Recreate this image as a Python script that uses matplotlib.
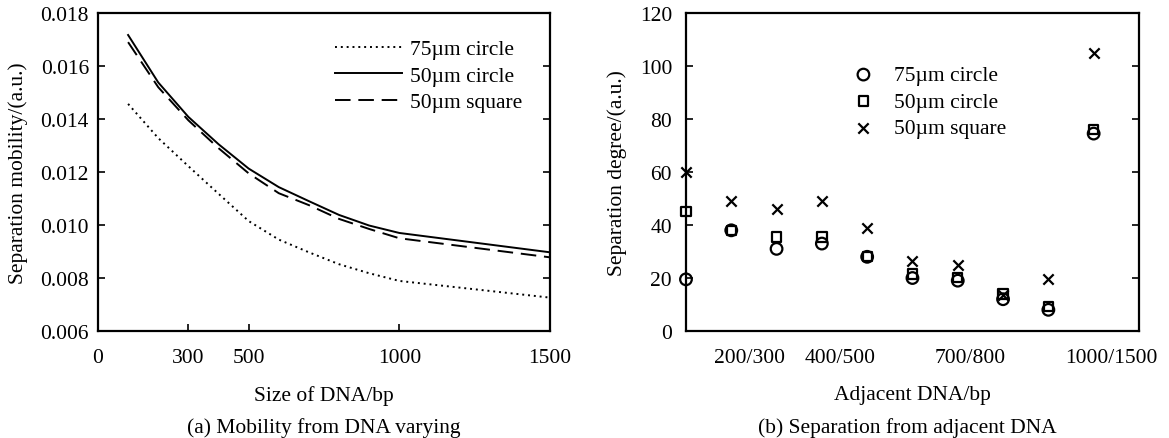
import matplotlib
matplotlib.use("Agg")
import matplotlib.pyplot as plt

plt.rcParams['font.family'] = ['Liberation Serif', 'DejaVu Serif']
plt.rcParams['font.size'] = 15.5

# (a) mobility vs DNA size
sizes = [100, 200, 300, 400, 500, 600, 700, 800, 900, 1000, 1500]
mob_75_circle = [0.01457, 0.01328, 0.01222, 0.01118, 0.01015, 0.00945, 0.00897, 0.00852, 0.00818, 0.00789, 0.00726]
mob_50_circle = [0.01717, 0.01538, 0.01408, 0.01305, 0.01213, 0.01143, 0.01090, 0.01038, 0.00998, 0.00970, 0.00897]
mob_50_square = [0.01690, 0.01520, 0.01395, 0.01290, 0.01195, 0.01120, 0.01075, 0.01023, 0.00985, 0.00950, 0.00878]

# (b) separation degree for adjacent DNA pairs
pair_idx = [0, 1, 2, 3, 4, 5, 6, 7, 8, 9]
sep_75_circle = [19.5, 38, 31, 33, 28, 20, 19, 12, 8, 74.5]
sep_50_circle = [45, 38, 35.5, 35.5, 28, 21.5, 20.3, 14, 9.2, 76]
sep_50_square = [60, 49, 46, 49, 39, 26.5, 25, 13.5, 19.5, 105]
pair_tick_pos = [1.4, 3.4, 6.27, 9.4]
pair_tick_labels = ['200/300', '400/500', '700/800', '1000/1500']

fig = plt.figure(figsize=(11.69, 4.39), dpi=100)
ax1 = fig.add_axes([0.0838, 0.2437, 0.3867, 0.7244])
ax2 = fig.add_axes([0.5868, 0.2437, 0.3875, 0.7244])

ax1.plot(sizes, mob_75_circle, color='black', lw=1.4, linestyle=(0, (1, 2)), label='75µm circle')
ax1.plot(sizes, mob_50_circle, color='black', lw=1.4, label='50µm circle')
ax1.plot(sizes, mob_50_square, color='black', lw=1.4, linestyle=(0, (8, 4)), label='50µm square')
ax1.set_xlim(0, 1500)
ax1.set_ylim(0.006, 0.018)
ax1.set_xticks([0, 300, 500, 1000, 1500])
ax1.set_yticks([0.006, 0.008, 0.010, 0.012, 0.014, 0.016, 0.018])
ax1.set_yticklabels(['0.006', '0.008', '0.010', '0.012', '0.014', '0.016', '0.018'])
ax1.tick_params(direction='in', right=True, top=False, length=5, width=1.2)
ax1.tick_params(axis='x', pad=12)
ax1.tick_params(axis='y', pad=6.5)
ax1.set_xlabel('Size of DNA/bp', labelpad=13)
ax1.set_ylabel('Separation mobility/(a.u.)', labelpad=9)
ax1.legend(loc='upper left', frameon=False, handlelength=3.1, handletextpad=0.37,
           labelspacing=0.3, borderpad=0, borderaxespad=0, bbox_to_anchor=(0.524, 0.918))

ax2.scatter(pair_idx, sep_75_circle, marker='o', s=70, facecolors='none', edgecolors='black', linewidths=1.6,
            label='75µm circle', clip_on=False, zorder=3)
ax2.scatter(pair_idx, sep_50_circle, marker='s', s=45, facecolors='none', edgecolors='black', linewidths=1.6,
            label='50µm circle', clip_on=False, zorder=3)
ax2.scatter(pair_idx, sep_50_square, marker='x', s=55, color='black', linewidths=1.6,
            label='50µm square', clip_on=False, zorder=3)
ax2.set_xlim(0, 10)
ax2.set_ylim(0, 120)
ax2.set_yticks([0, 20, 40, 60, 80, 100, 120])
ax2.set_xticks(pair_tick_pos)
ax2.set_xticklabels(pair_tick_labels)
ax2.tick_params(axis='x', length=0, pad=12)
ax2.tick_params(axis='y', direction='in', right=True, length=5, width=1.2, pad=10)
ax2.set_xlabel('Adjacent DNA/bp', labelpad=13)
ax2.set_ylabel('Separation degree/(a.u.)', labelpad=9)
ax2.legend(loc='upper left', frameon=False, bbox_to_anchor=(0.368, 0.836), handlelength=1.0,
           handletextpad=0.9, labelspacing=0.3, borderpad=0, borderaxespad=0, scatterpoints=1)

for ax in (ax1, ax2):
    for sp in ax.spines.values():
        sp.set_linewidth(1.6)

fig.text(0.277, 0.025, '(a) Mobility from DNA varying', ha='center', va='center')
fig.text(0.776, 0.025, '(b) Separation from adjacent DNA', ha='center', va='center')

fig.savefig('out.png', dpi=100)
